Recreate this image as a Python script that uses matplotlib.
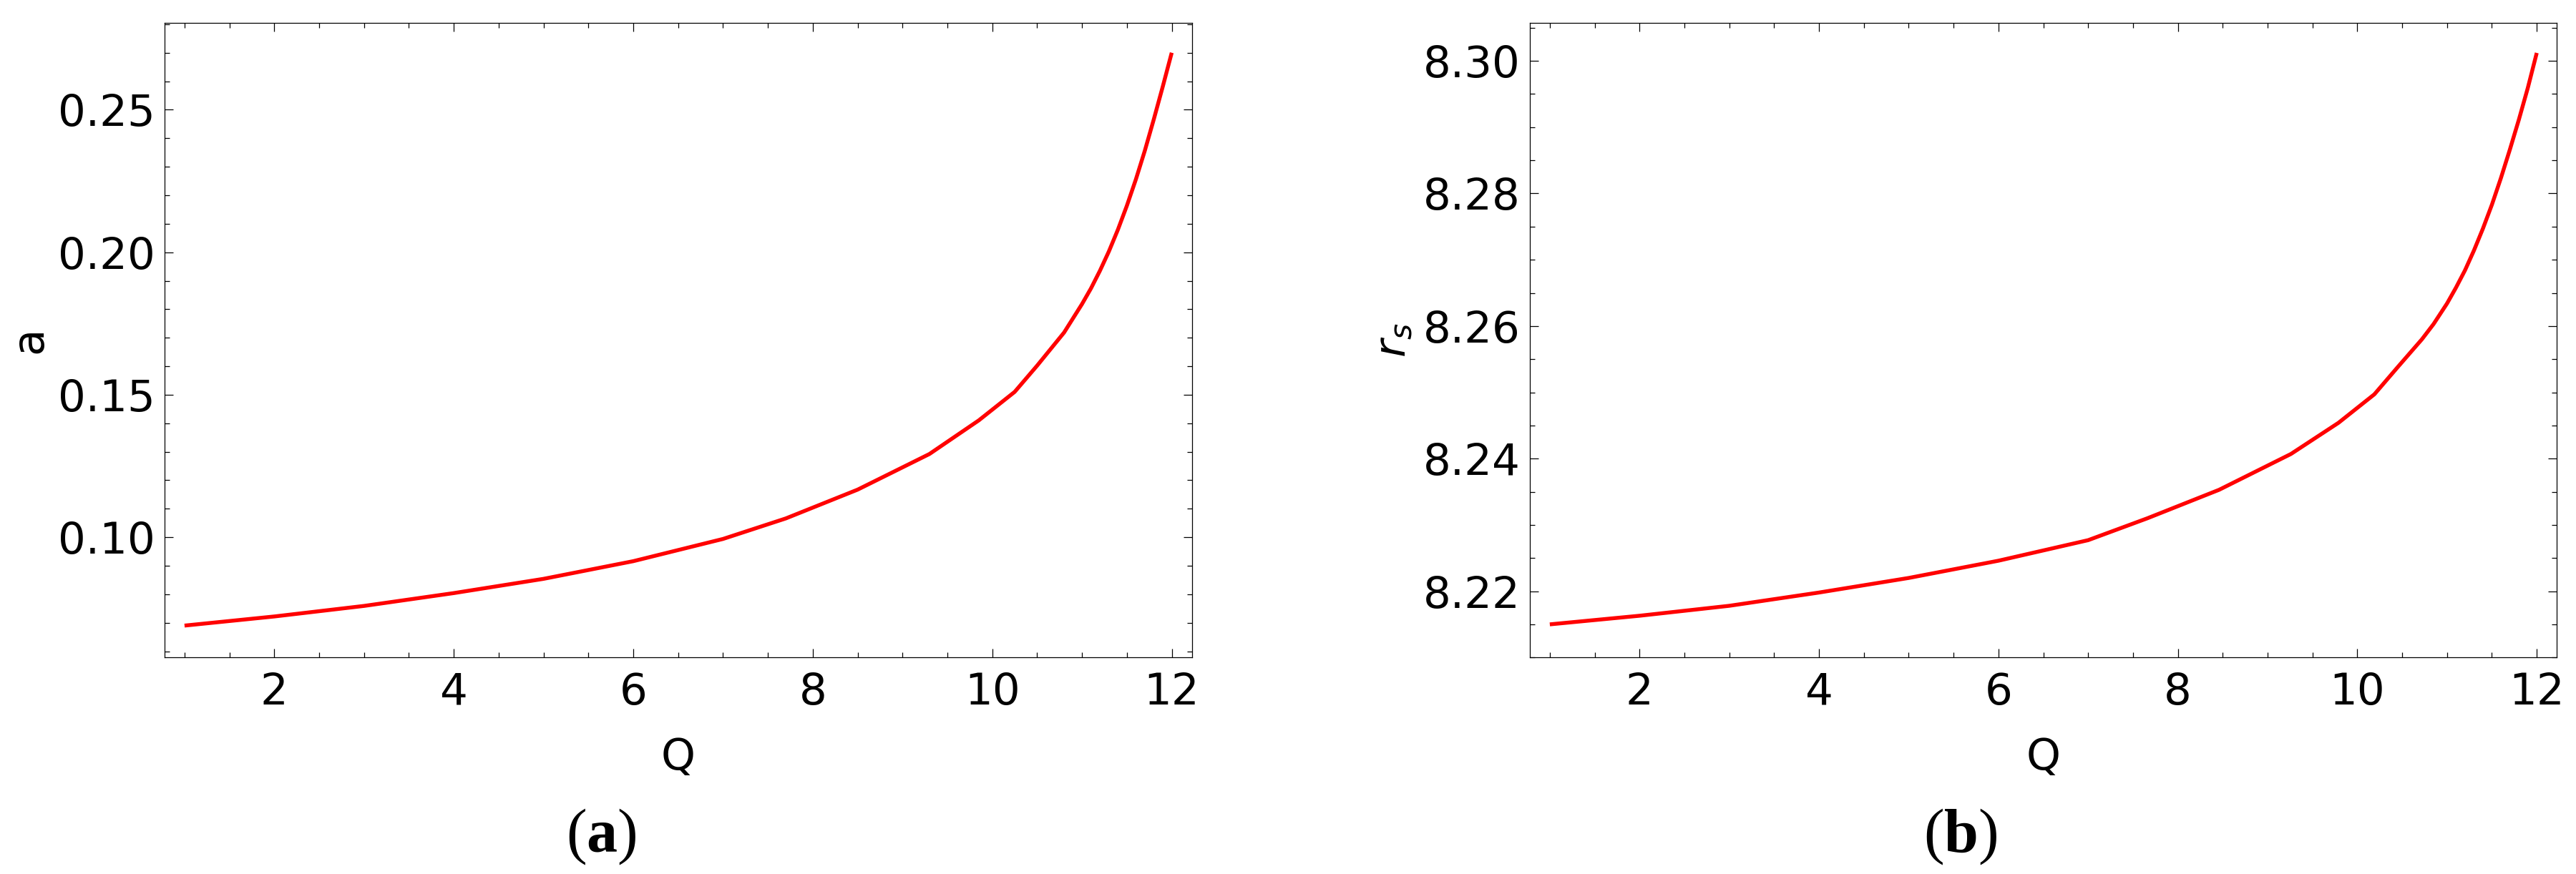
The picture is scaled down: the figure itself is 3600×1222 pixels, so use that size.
import matplotlib
matplotlib.use("Agg")
import matplotlib.pyplot as plt
from matplotlib.ticker import MultipleLocator, FormatStrFormatter

# values
q_a = [1, 2, 3, 4, 5, 6, 7, 7.7, 8.5, 9.3, 9.85, 10.25, 10.5, 10.8, 11.0,
       11.1, 11.2, 11.3, 11.4, 11.5, 11.6, 11.7, 11.8, 11.9, 12]
a_vals = [0.0690, 0.0722, 0.0759, 0.0804, 0.0854, 0.0916, 0.0994, 0.1066,
          0.1167, 0.1292, 0.1410, 0.1510, 0.1602, 0.1718, 0.1818, 0.1873,
          0.1935, 0.2003, 0.2079, 0.2163, 0.2255, 0.2356, 0.2466, 0.2581,
          0.2700]

q_r = [1, 2, 3, 4, 5, 6, 7, 7.66, 8.46, 9.26, 9.79, 10.19, 10.45, 10.72,
       10.85, 11.0, 11.1, 11.2, 11.3, 11.4, 11.5, 11.6, 11.7, 11.8, 11.9, 12]
rs_vals = [8.2150, 8.2163, 8.2178, 8.2198, 8.2220, 8.2246, 8.2277, 8.2310,
           8.2353, 8.2407, 8.2454, 8.2497, 8.2538, 8.2580, 8.2603, 8.2634,
           8.2658, 8.2684, 8.2714, 8.2747, 8.2783, 8.2823, 8.2866, 8.2911,
           8.2959, 8.3012]

plt.rcParams["font.family"] = ["DejaVu Sans"]
plt.rcParams["mathtext.fontset"] = "custom"
plt.rcParams["mathtext.rm"] = "Liberation Serif"
plt.rcParams["mathtext.bf"] = "Liberation Serif:bold"
plt.rcParams["mathtext.it"] = "DejaVu Sans:italic"

FS = 44

fig = plt.figure(figsize=(36, 12.22), dpi=100)
ax1 = fig.add_axes([0.0638, 0.2477, 0.3989, 0.7259])
ax2 = fig.add_axes([0.5938, 0.2477, 0.3988, 0.7259])


def style_axis(ax, ymajor, yminor, yfmt):
    ax.xaxis.set_major_locator(MultipleLocator(2))
    ax.xaxis.set_minor_locator(MultipleLocator(0.5))
    ax.yaxis.set_major_locator(MultipleLocator(ymajor))
    ax.yaxis.set_minor_locator(MultipleLocator(yminor))
    ax.yaxis.set_major_formatter(FormatStrFormatter(yfmt))
    ax.tick_params(which="both", direction="in", top=True, right=True,
                   width=0.9, labelsize=FS)
    ax.tick_params(which="major", length=8.6)
    ax.tick_params(which="minor", length=5)
    ax.tick_params(axis="y", pad=9.5)
    ax.tick_params(axis="x", pad=14)
    for sp in ax.spines.values():
        sp.set_linewidth(0.9)
    ax.set_xlim(0.775, 12.225)


ax1.plot(q_a, a_vals, color="#ff0000", lw=3.9, solid_capstyle="butt")
style_axis(ax1, 0.05, 0.01, "%.2f")
ax1.set_ylim(0.0578, 0.2804)
ax1.set_xlabel("Q", fontsize=FS)
ax1.set_ylabel("a", fontsize=FS)

ax2.plot(q_r, rs_vals, color="#ff0000", lw=3.9, solid_capstyle="butt")
style_axis(ax2, 0.02, 0.005, "%.2f")
ax2.set_ylim(8.2100, 8.3057)
ax2.set_xlabel("Q", fontsize=FS)
ax2.set_ylabel(r"$r_s$", fontsize=FS)

for ax in (ax1, ax2):
    ax.xaxis.set_label_coords(0.5, -0.125)
    ax.yaxis.label.set_va("center")
ax1.yaxis.set_label_coords(-0.131, 0.5)
ax2.yaxis.set_label_coords(-0.132, 0.5)

fig.text(840 / 3600, 1 - 1170 / 1222, r"($\mathbf{a}$)", fontsize=62,
         family="Liberation Serif", ha="center", va="center")
fig.text(2740 / 3600, 1 - 1170 / 1222, r"($\mathbf{b}$)", fontsize=62,
         family="Liberation Serif", ha="center", va="center")

fig.savefig("out.png", dpi=100)
